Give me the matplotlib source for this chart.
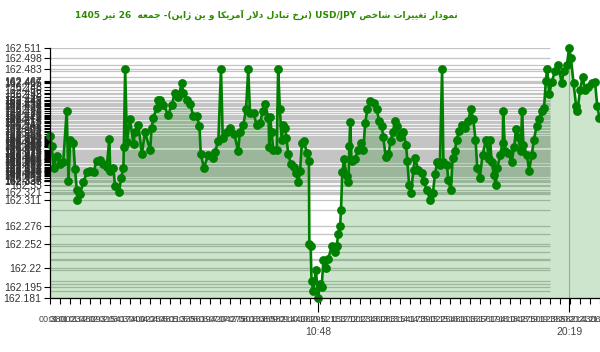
import numpy as np
import matplotlib
matplotlib.use("Agg")
import matplotlib.pyplot as plt

# ---------------- data ----------------
minute_of_day = [39, 42, 46, 53, 61, 68, 76, 80, 84, 91, 95, 99, 100, 106, 114, 122, 129, 137, 144, 152,
                 159, 167, 173, 175, 182, 186, 195, 200, 205, 206, 209, 213, 220, 228, 231, 239, 247, 254, 266, 269,
                 273, 281, 284, 288, 296, 307, 315, 322, 330, 338, 341, 349, 357, 364, 372, 378, 381, 388, 398, 408,
                 413, 421, 427, 431, 440, 448, 457, 466, 470, 478, 484, 489, 493, 501, 508, 516, 522, 527, 535, 537,
                 539, 542, 546, 554, 557, 561, 565, 569, 573, 576, 580, 586, 592, 598, 603, 607, 611, 616, 622, 627,
                 628, 631, 633, 637, 643, 648, 652, 656, 660, 666, 671, 679, 686, 690, 694, 698, 700, 703, 707, 713,
                 717, 719, 721, 724, 732, 739, 745, 751, 755, 760, 766, 774, 781, 787, 793, 796, 802, 808, 813, 818,
                 823, 828, 834, 842, 848, 851, 855, 859, 865, 868, 876, 884, 889, 895, 903, 909, 914, 919, 925, 930,
                 933, 941, 944, 950, 954, 959, 963, 969, 975, 982, 990, 995, 1001, 1006, 1010, 1016, 1022, 1030, 1037, 1039,
                 1043, 1048, 1052, 1056, 1062, 1068, 1069, 1073, 1081, 1088, 1094, 1098, 1103, 1109, 1112, 1115, 1123, 1128, 1134, 1139,
                 1145, 1151, 1157, 1162, 1166, 1169, 1174, 1179, 1187, 1194, 1202, 1207, 1214, 1219, 1223, 1229, 1235, 1238, 1244, 1250,
                 1255, 1263, 1270, 1278, 1283, 1288]
rate = [162.395, 162.382, 162.353, 162.369, 162.358, 162.360, 162.428, 162.336, 162.390, 162.386,
        162.351, 162.323, 162.311, 162.318, 162.334, 162.347, 162.348, 162.347, 162.362, 162.363,
        162.358, 162.354, 162.391, 162.349, 162.353, 162.329, 162.321, 162.340, 162.353, 162.380,
        162.483, 162.387, 162.417, 162.384, 162.400, 162.410, 162.371, 162.400, 162.376, 162.405,
        162.419, 162.432, 162.443, 162.442, 162.436, 162.423, 162.436, 162.452, 162.446, 162.465,
        162.452, 162.443, 162.437, 162.421, 162.421, 162.408, 162.371, 162.353, 162.370, 162.366,
        162.374, 162.388, 162.483, 162.392, 162.400, 162.405, 162.398, 162.375, 162.400, 162.410,
        162.430, 162.483, 162.425, 162.425, 162.410, 162.412, 162.428, 162.437, 162.419, 162.380,
        162.420, 162.400, 162.377, 162.377, 162.483, 162.430, 162.390, 162.410, 162.405, 162.392,
        162.371, 162.358, 162.354, 162.346, 162.334, 162.349, 162.386, 162.388, 162.373, 162.362,
        162.252, 162.249, 162.203, 162.190, 162.218, 162.181, 162.200, 162.195, 162.231, 162.220,
        162.233, 162.249, 162.242, 162.249, 162.266, 162.276, 162.297, 162.347, 162.364, 162.342,
        162.334, 162.381, 162.413, 162.362, 162.365, 162.376, 162.386, 162.377, 162.412, 162.430,
        162.441, 162.439, 162.430, 162.415, 162.408, 162.393, 162.367, 162.371, 162.388, 162.400,
        162.415, 162.408, 162.393, 162.400, 162.383, 162.362, 162.330, 162.320, 162.350, 162.366,
        162.350, 162.346, 162.335, 162.323, 162.311, 162.319, 162.345, 162.361, 162.357, 162.483,
        162.360, 162.357, 162.337, 162.323, 162.366, 162.375, 162.390, 162.402, 162.410, 162.405,
        162.415, 162.430, 162.417, 162.390, 162.353, 162.340, 162.370, 162.390, 162.365, 162.390,
        162.360, 162.343, 162.330, 162.353, 162.370, 162.386, 162.428, 162.375, 162.373, 162.360,
        162.380, 162.404, 162.393, 162.375, 162.428, 162.383, 162.370, 162.349, 162.370, 162.390,
        162.408, 162.417, 162.428, 162.432, 162.467, 162.483, 162.450, 162.466, 162.480, 162.489,
        162.465, 162.480, 162.489, 162.511, 162.498, 162.465, 162.434, 162.428, 162.456, 162.473,
        162.456, 162.460, 162.465, 162.466, 162.434, 162.419]

y_labels_sparse = [162.511, 162.498, 162.483, 162.33, 162.321, 162.311,
                   162.276, 162.252, 162.22, 162.195, 162.181]
major_tick_labels = ["10:48", "20:19"]
title_text = "نمودار تغییرات شاخص USD/JPY (نرخ تبادل دلار آمریکا و ین ژاپن)- جمعه  26 تیر 1405"

# ---------------- simple Persian shaping ----------------
FORMS = {
    'ا': ('\uFE8D', '\uFE8E'), 'آ': ('\uFE81', '\uFE82'),
    'ب': ('\uFE8F', '\uFE90', '\uFE91', '\uFE92'), 'پ': ('\uFB56', '\uFB57', '\uFB58', '\uFB59'),
    'ت': ('\uFE95', '\uFE96', '\uFE97', '\uFE98'), 'ج': ('\uFE9D', '\uFE9E', '\uFE9F', '\uFEA0'),
    'خ': ('\uFEA5', '\uFEA6', '\uFEA7', '\uFEA8'), 'د': ('\uFEA9', '\uFEAA'),
    'ر': ('\uFEAD', '\uFEAE'), 'ژ': ('\uFB8A', '\uFB8B'),
    'ش': ('\uFEB5', '\uFEB6', '\uFEB7', '\uFEB8'), 'ص': ('\uFEB9', '\uFEBA', '\uFEBB', '\uFEBC'),
    'ع': ('\uFEC9', '\uFECA', '\uFECB', '\uFECC'), 'غ': ('\uFECD', '\uFECE', '\uFECF', '\uFED0'),
    'ک': ('\uFB8E', '\uFB8F', '\uFB90', '\uFB91'), 'ل': ('\uFEDD', '\uFEDE', '\uFEDF', '\uFEE0'),
    'م': ('\uFEE1', '\uFEE2', '\uFEE3', '\uFEE4'), 'ن': ('\uFEE5', '\uFEE6', '\uFEE7', '\uFEE8'),
    'ه': ('\uFEE9', '\uFEEA', '\uFEEB', '\uFEEC'), 'و': ('\uFEED', '\uFEEE'),
    'ی': ('\uFBFC', '\uFBFD', '\uFBFE', '\uFBFF'),
    'لا': ('\uFEFB', '\uFEFC'), 'لآ': ('\uFEF5', '\uFEF6'),
}
MIRROR = {'(': ')', ')': '('}


def shape_token(tok):
    units = []
    i = 0
    while i < len(tok):
        if tok[i] == 'ل' and i + 1 < len(tok) and tok[i + 1] in 'اآ':
            units.append(tok[i:i + 2]); i += 2
        else:
            units.append(tok[i]); i += 1
    out = []
    n = len(units)
    for k, u in enumerate(units):
        if u not in FORMS:
            out.append(MIRROR.get(u, u))
            continue
        f = FORMS[u]
        jp = k > 0 and units[k - 1] in FORMS and len(FORMS[units[k - 1]]) == 4
        jn = k < n - 1 and units[k + 1] in FORMS and len(f) == 4
        if jp and jn:
            out.append(f[3])
        elif jp:
            out.append(f[1])
        elif jn:
            out.append(f[2])
        else:
            out.append(f[0])
    return ''.join(reversed(out))


def visual_rtl(text):
    toks = text.split(' ')
    res = []
    for t in reversed(toks):
        if any('\u0600' <= c <= '\u06FF' for c in t):
            res.append(shape_token(t))
        else:
            res.append(t)
    return ' '.join(res)


# ---------------- figure ----------------
fig = plt.figure(figsize=(6, 3.52), dpi=100)
ax = fig.add_axes([50 / 600, 1 - 298 / 352, 550 / 600, 250 / 352])
x0, x1 = 38, 1289
y0, y1 = min(rate), max(rate)
ax.set_xlim(x0, x1)
ax.set_ylim(y0, y1)

green = "#008000"
grid_end = 1176
uniq = sorted(set(rate))
ax.hlines(uniq, x0, grid_end, colors="#c4c4c4", lw=0.9, zorder=1)
ax.axvline(1219, color="#bcbcbc", lw=0.8, zorder=1)

ax.fill_between(minute_of_day, rate, y0, color=green, alpha=0.2, lw=0, zorder=2)
ax.plot(minute_of_day, rate, color=green, lw=1.9, marker="o", ms=5.3,
        zorder=4, clip_on=False)

for s in ["top", "right"]:
    ax.spines[s].set_visible(False)
for s in ["left", "bottom"]:
    ax.spines[s].set_color("black")
    ax.spines[s].set_linewidth(0.9)
    ax.spines[s].set_zorder(5)

# y ticks
dense = [v for v in uniq if 162.335 <= v <= 162.467]
yt = sorted(set(y_labels_sparse) | set(dense))
ax.set_yticks(yt)
ax.set_yticklabels([f"{v:.3f}".rstrip("0").rstrip(".") for v in yt],
                   fontsize=7.5, color="#333333", family="Liberation Sans")
ax.tick_params(axis="y", length=4, width=0.8, color="black", pad=2)

# x ticks
minor_pos = np.arange(x0, x1 + 1, 22.75)
minor_lab = [f"{int(m // 60):02d}:{int(m % 60):02d}" for m in minor_pos]
ax.set_xticks(minor_pos, minor_lab, minor=True)
ax.set_xticks([648, 1219], major_tick_labels)
ax.tick_params(axis="x", which="minor", length=4.5, width=0.8, color="black",
               pad=8, labelsize=6.5, labelcolor="#444444")
ax.tick_params(axis="x", which="major", length=10, width=0.8, color="black",
               pad=11, labelsize=7.5, labelcolor="#444444")
for lab in ax.get_xticklabels(minor=True) + ax.get_xticklabels():
    lab.set_family("Liberation Sans")

fig.text(266 / 600, 1 - 15 / 352, visual_rtl(title_text), ha="center", va="center",
         fontsize=6.5, fontweight="bold", color="#2d8a00", family="DejaVu Sans")

fig.savefig("out.png", dpi=100)
